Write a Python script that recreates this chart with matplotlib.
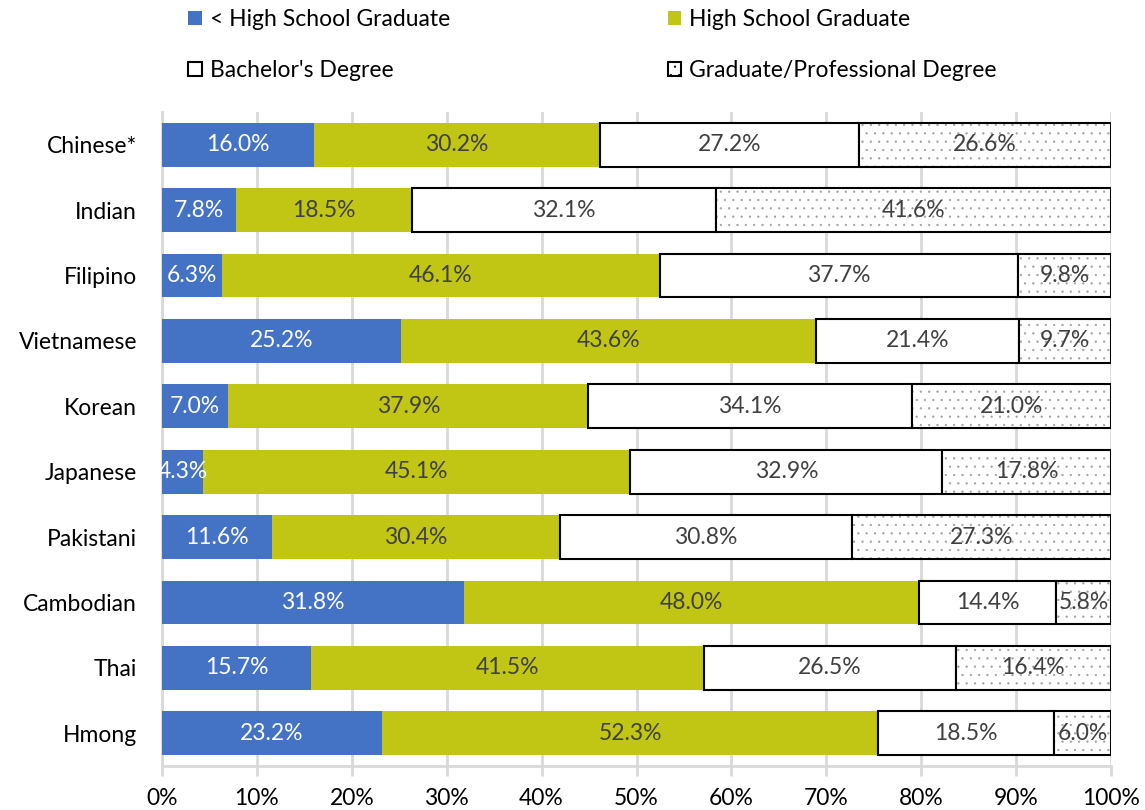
import matplotlib.pyplot as plt
import numpy as np
from matplotlib.patches import Patch

plt.rcParams['font.family'] = ['Lato', 'DejaVu Sans']
plt.rcParams['hatch.linewidth'] = 0.4

# Educational attainment by Asian subgroup (percent of adults)
groups = ["Chinese*", "Indian", "Filipino", "Vietnamese", "Korean",
          "Japanese", "Pakistani", "Cambodian", "Thai", "Hmong"]
less_hs = [16.0, 7.8, 6.3, 25.2, 7.0, 4.3, 11.6, 31.8, 15.7, 23.2]
hs_grad = [30.2, 18.5, 46.1, 43.6, 37.9, 45.1, 30.4, 48.0, 41.5, 52.3]
bachelor = [27.2, 32.1, 37.7, 21.4, 34.1, 32.9, 30.8, 14.4, 26.5, 18.5]
graduate = [26.6, 41.6, 9.8, 9.7, 21.0, 17.8, 27.3, 5.8, 16.4, 6.0]
series_names = ["< High School Graduate", "High School Graduate",
                "Bachelor's Degree", "Graduate/Professional Degree"]

values = np.array([less_hs, hs_grad, bachelor, graduate])
shares = values / values.sum(axis=0) * 100  # 100% stacked

fig = plt.figure(figsize=(11.45, 8.1), dpi=100)
ax = fig.add_axes([0.1415, 0.0543, 0.8288, 0.8073])

y = np.arange(len(groups))
h = 0.67
grid_gray = '#D9D9D9'
text_gray = '#404040'
fs = 16.5

left = np.zeros(len(groups))
for i in range(4):
    w = shares[i]
    if i == 0:
        ax.barh(y, w, h, left=left, color='#4472C4', zorder=3)
    elif i == 1:
        ax.barh(y, w, h, left=left, color='#C1C614', zorder=3)
    elif i == 2:
        ax.barh(y, w, h, left=left, color='white', edgecolor='black',
                linewidth=1.5, zorder=3)
    else:
        # dotted fill drawn in gray, outline drawn separately in black
        ax.barh(y, w, h, left=left, color='white', edgecolor='#A0A0A0',
                hatch='..', linewidth=0, zorder=3)
        ax.barh(y, w, h, left=left, fill=False, edgecolor='black',
                linewidth=1.5, zorder=4)
    for j in range(len(groups)):
        c = 'white' if i == 0 else text_gray
        ax.text(left[j] + w[j] / 2, y[j], f"{values[i][j]:.1f}%",
                ha='center', va='center', fontsize=fs, color=c, zorder=5)
    left += w

ax.set_xlim(0, 100)
ax.set_ylim(len(groups) - 0.5, -0.5)
ax.set_yticks(y)
ax.set_yticklabels(groups, fontsize=fs)
ax.set_xticks(np.arange(0, 101, 10))
ax.set_xticklabels([f"{t}%" for t in range(0, 101, 10)], fontsize=fs)
ax.tick_params(axis='y', length=0, pad=18)
ax.tick_params(axis='x', length=7, width=2, color=grid_gray, pad=9)
ax.xaxis.grid(True, color=grid_gray, linewidth=2, zorder=0)
ax.set_axisbelow(True)
for s in ['top', 'right']:
    ax.spines[s].set_visible(False)
ax.spines['bottom'].set_color(grid_gray)
ax.spines['bottom'].set_linewidth(2)
ax.spines['left'].set_color(grid_gray)
ax.spines['left'].set_linewidth(2)

handles = [
    Patch(facecolor='#4472C4', label=series_names[0]),
    Patch(facecolor='white', edgecolor='black', linewidth=1.5, label=series_names[2]),
    Patch(facecolor='#C1C614', label=series_names[1]),
    Patch(facecolor='white', edgecolor='black', hatch='..', linewidth=1.5,
          label=series_names[3]),
]
fig.legend(handles=handles, loc='upper left', bbox_to_anchor=(0.146, 1.014),
           ncol=2, frameon=False, fontsize=fs, handlelength=0.6,
           handleheight=0.6, handletextpad=0.35, columnspacing=9.5,
           labelspacing=1.3)

fig.savefig('out.png', dpi=100)
